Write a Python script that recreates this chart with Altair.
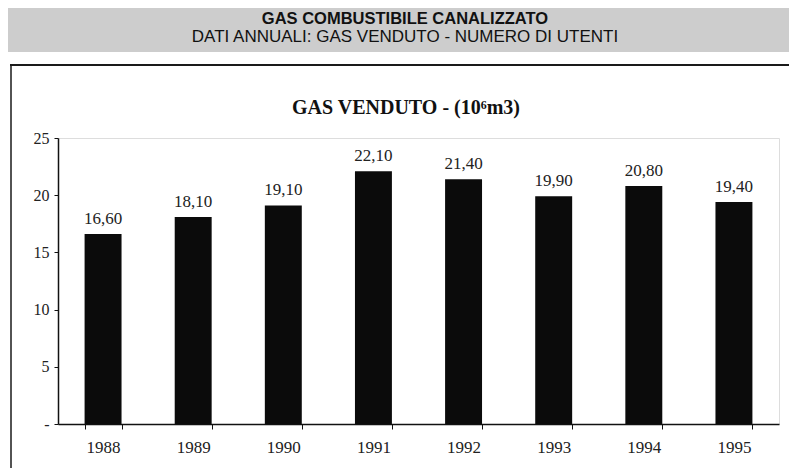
import altair as alt
import pandas as pd

years = ["1988", "1989", "1990", "1991", "1992", "1993", "1994", "1995"]
gas_sold = [16.6, 18.1, 19.1, 22.1, 21.4, 19.9, 20.8, 19.4]

header_line1 = "GAS COMBUSTIBILE CANALIZZATO"
header_line2 = "DATI ANNUALI: GAS VENDUTO - NUMERO DI UTENTI"
chart_title = "GAS VENDUTO - (10⁶m3)"

df = pd.DataFrame({"year": years, "value": gas_sold})
one = pd.DataFrame({"a": [0]})

SERIF = "Liberation Serif"
SANS = "Liberation Sans, Arial"

x_enc = alt.X(
    "year:N",
    sort=years,
    scale=alt.Scale(paddingInner=0.59, paddingOuter=0.295),
    axis=alt.Axis(
        title=None, labelAngle=0, labelFont=SERIF, labelFontSize=17,
        labelColor="#222", labelPadding=10, tickSize=5, tickBand="extent",
        domainColor="#111", tickColor="#111", domainWidth=1.5,
    ),
)
y_scale = alt.Scale(domain=[0, 25], nice=False, zero=True)
y_enc = alt.Y(
    "value:Q",
    scale=y_scale,
    axis=alt.Axis(
        title=None, values=[0, 5, 10, 15, 20, 25], labelFont=SERIF,
        labelFontSize=16, labelColor="#222", labelPadding=5, tickSize=4,
        labelExpr="datum.value == 0 ? '-' : datum.label", grid=False,
        domainColor="#111", tickColor="#111", domainWidth=1.5,
    ),
)

bars = alt.Chart(df).mark_bar(color="#0b0b0b").encode(x=x_enc, y=y_enc)

labels = alt.Chart(df).transform_calculate(
    lbl="replace(format(datum.value, '.2f'), '.', ',')"
).mark_text(font=SERIF, fontSize=17, color="#222", baseline="bottom", dy=-6).encode(
    x=alt.X("year:N", sort=years), y=alt.Y("value:Q", scale=y_scale), text="lbl:N"
)

band = alt.Chart(one).mark_rect(color="#cdcdcd").encode(
    x=alt.value(-50), x2=alt.value(740), y=alt.value(-130), y2=alt.value(-86)
)
h1 = alt.Chart(one).mark_text(
    font=SANS, fontSize=16.5, fontWeight="bold", color="#111"
).encode(x=alt.value(347), y=alt.value(-119.5), text=alt.value(header_line1))
h2 = alt.Chart(one).mark_text(
    font=SANS, fontSize=17, color="#111"
).encode(x=alt.value(347), y=alt.value(-101.5), text=alt.value(header_line2))

top_line = alt.Chart(one).mark_rule(color="#1a1a1a", strokeWidth=2).encode(
    x=alt.value(-48), x2=alt.value(740), y=alt.value(-73)
)
left_line = alt.Chart(one).mark_rule(color="#1a1a1a", strokeWidth=1.5).encode(
    x=alt.value(-47), y=alt.value(-73), y2=alt.value(340)
)

title = alt.Chart(one).mark_text(
    font=SERIF, fontSize=20, fontWeight="bold", color="#111"
).encode(x=alt.value(348), y=alt.value(-30), text=alt.value(chart_title))

chart = alt.layer(band, h1, h2, top_line, left_line, title, bars, labels).properties(
    width=721,
    height=286,
    autosize=alt.AutoSizeParams(type="none"),
    padding={"left": 50, "top": 130, "right": 10, "bottom": 44},
).configure_view(stroke=None).configure(background="white")

chart.save("out.html", embed_options={"renderer": "svg", "actions": False})
